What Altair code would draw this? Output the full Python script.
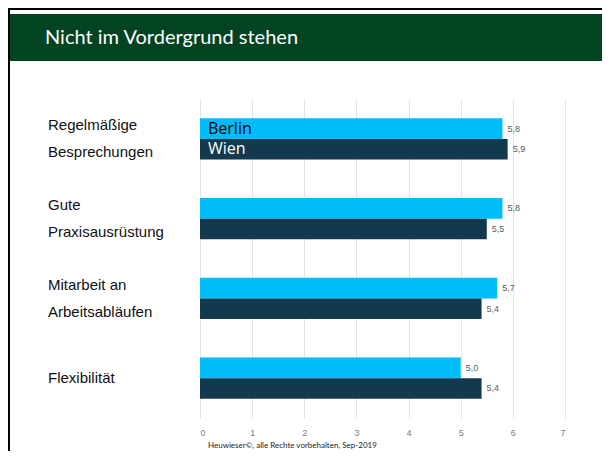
import altair as alt
import pandas as pd

categories = ["Regelmäßige\nBesprechungen", "Gute\nPraxisausrüstung",
              "Mitarbeit an\nArbeitsabläufen", "Flexibilität"]
series = ["Berlin", "Wien"]
berlin = [5.8, 5.8, 5.7, 5.0]
wien = [5.9, 5.5, 5.4, 5.4]
x_ticks = [0, 1, 2, 3, 4, 5, 6, 7]
title_text = "Nicht im Vordergrund stehen"
footer_text = "Heuwieser©, alle Rechte vorbehalten, Sep-2019"

rows = []
for c, b, w in zip(categories, berlin, wien):
    for s, v in zip(series, [b, w]):
        rows.append({"category": c, "series": s, "value": v,
                     "label": f"{v:.1f}".replace(".", ",")})
df = pd.DataFrame(rows)

cat_rows = []
for c in categories:
    parts = c.split("\n")
    cat_rows.append({"category": c,
                     "line1": parts[0],
                     "line2": parts[1] if len(parts) > 1 else "",
                     "nlines": len(parts)})
cat_df = pd.DataFrame(cat_rows)
first_df = df[df["category"] == categories[0]]

W, H = 365, 319
PL, PT = 192, 91

y_enc = alt.Y("category:N", sort=categories,
              scale=alt.Scale(paddingInner=0.485, paddingOuter=0.2425), axis=None)
yoff = alt.YOffset("series:N", sort=series, scale=alt.Scale(paddingInner=0, paddingOuter=0))
x_enc = alt.X("value:Q", scale=alt.Scale(domain=[0, 7], nice=False),
              axis=alt.Axis(values=x_ticks, format="d", grid=True, gridColor="#e3e3e3",
                            gridWidth=1, domain=False, ticks=False, labelColor="#7a7a7a",
                            labelFontSize=9, labelPadding=10, title=None,
                            labelFont="Liberation Sans"))

bars = alt.Chart(df).mark_bar().encode(
    x=x_enc, y=y_enc, yOffset=yoff,
    color=alt.Color("series:N", scale=alt.Scale(domain=series, range=["#00BCF8", "#13394F"]),
                    legend=None),
)

vals = alt.Chart(df).mark_text(align="left", baseline="middle", dx=5, fontSize=9,
                               font="Liberation Sans", color="#5a5a5a").encode(
    x="value:Q", y=y_enc, yOffset=yoff, text="label:N")

names = alt.Chart(first_df).mark_text(align="left", baseline="middle", fontSize=16,
                                      font="Open Sans").encode(
    x=alt.value(8), y=y_enc, yOffset=yoff, text="series:N",
    color=alt.condition(alt.datum.series == "Berlin", alt.value("#000000"), alt.value("#ffffff")))

cat_style = dict(align="left", baseline="middle", fontSize=15, font="Liberation Sans",
                 color="#111111")
cat_y = alt.Y("category:N", sort=categories)
cats_top = alt.Chart(cat_df).transform_filter("datum.nlines > 1").mark_text(
    dy=-13.5, **cat_style).encode(x=alt.value(-152), y=cat_y, text="line1:N")
cats_bot = alt.Chart(cat_df).transform_filter("datum.nlines > 1").mark_text(
    dy=13.5, **cat_style).encode(x=alt.value(-152), y=cat_y, text="line2:N")
cats_single = alt.Chart(cat_df).transform_filter("datum.nlines == 1").mark_text(
    **cat_style).encode(x=alt.value(-152), y=cat_y, text="line1:N")

one = cat_df.head(1)
header = alt.Chart(one).mark_rect(color="#024422").encode(
    x=alt.value(-190), x2=alt.value(420), y=alt.value(-85), y2=alt.value(-38))
border_left = alt.Chart(one).mark_rect(color="#000000").encode(
    x=alt.value(-192), x2=alt.value(-190), y=alt.value(-91), y2=alt.value(370))
border_top = alt.Chart(one).mark_rect(color="#000000").encode(
    x=alt.value(-192), x2=alt.value(420), y=alt.value(-91), y2=alt.value(-89))
title = alt.Chart(one).mark_text(align="left", baseline="middle", fontSize=20,
                                 font="Lato", color="#ffffff").encode(
    x=alt.value(-155), y=alt.value(-61), text=alt.value(title_text))
footer = alt.Chart(one).mark_text(align="left", baseline="middle", fontSize=8,
                                  font="Lato", color="#222222").encode(
    x=alt.value(8), y=alt.value(347), text=alt.value(footer_text))

chart = alt.layer(header, border_left, border_top, title, bars, vals, names,
                  cats_top, cats_bot, cats_single, footer).properties(
    width=W, height=H,
    autosize=alt.AutoSizeParams(type="none"),
    padding={"left": PL, "top": PT, "right": 37, "bottom": 33},
).configure_view(stroke=None)

chart.save("out.html", embed_options={"renderer": "svg", "actions": False})
